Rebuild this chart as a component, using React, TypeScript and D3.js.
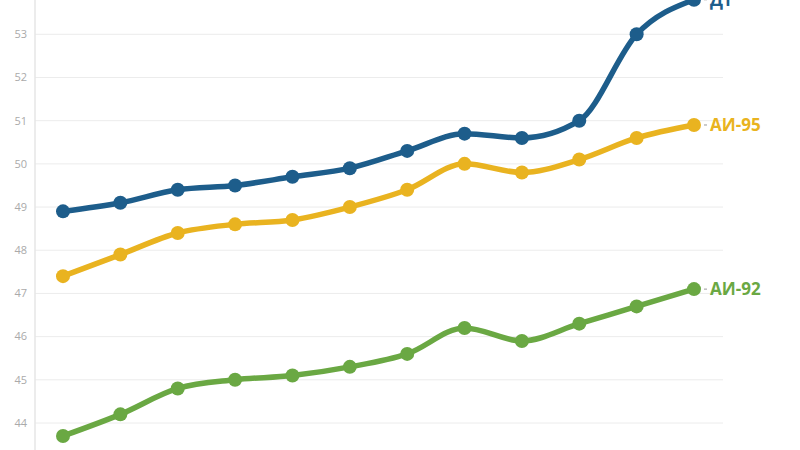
import React from "react";
import * as d3 from "d3";

const periods = [1, 2, 3, 4, 5, 6, 7, 8, 9, 10, 11, 12];
const dtValues = [48.9, 49.1, 49.4, 49.5, 49.7, 49.9, 50.3, 50.7, 50.6, 51.0, 53.0, 53.8];
const ai95Values = [47.4, 47.9, 48.4, 48.6, 48.7, 49.0, 49.4, 50.0, 49.8, 50.1, 50.6, 50.9];
const ai92Values = [43.7, 44.2, 44.8, 45.0, 45.1, 45.3, 45.6, 46.2, 45.9, 46.3, 46.7, 47.1];
const seriesNames = ["ДТ", "АИ-95", "АИ-92"];
const yTicks = [44, 45, 46, 47, 48, 49, 50, 51, 52, 53];

const colors = ["#1d5d8b", "#e9b320", "#6aa843"];

export default function App() {
  const width = 800;
  const height = 450;
  const x = d3.scaleLinear().domain([1, 12]).range([63, 694]);
  const y = d3.scaleLinear().domain([44, 53]).range([423, 34.3]);
  const line = d3
    .line<number>()
    .x((_, i) => x(periods[i]))
    .y((d) => y(d))
    .curve(d3.curveMonotoneX);
  const series = [dtValues, ai95Values, ai92Values];

  return (
    <svg
      width={width}
      height={height}
      style={{ position: "absolute", left: 0, top: 0, background: "#fff" }}
    >
      {yTicks.map((t) => (
        <g key={t}>
          <line x1={35} x2={723} y1={y(t)} y2={y(t)} stroke="#ececec" strokeWidth={1} />
          <text
            x={27}
            y={y(t)}
            dy="0.35em"
            textAnchor="end"
            fontFamily="Open Sans, sans-serif"
            fontSize={11}
            fill="#aaaaaa"
          >
            {t}
          </text>
        </g>
      ))}
      <line x1={35} x2={35} y1={0} y2={450} stroke="#e6e6e6" strokeWidth={1.5} />
      {series.map((vals, si) => (
        <g key={si}>
          <path d={line(vals) || ""} fill="none" stroke={colors[si]} strokeWidth={5.5} strokeLinejoin="round" strokeLinecap="round" />
          {vals.map((v, i) => (
            <circle key={i} cx={x(periods[i])} cy={y(v)} r={7} fill={colors[si]} />
          ))}
          <line
            x1={x(12) + 10}
            x2={x(12) + 13}
            y1={y(vals[vals.length - 1])}
            y2={y(vals[vals.length - 1])}
            stroke="#999"
            strokeWidth={1}
          />
          <text
            x={x(12) + 16}
            y={y(vals[vals.length - 1])}
            dy="0.36em"
            fontFamily="Open Sans, sans-serif"
            fontWeight="bold"
            fontSize={17}
            fill={colors[si]}
          >
            {seriesNames[si]}
          </text>
        </g>
      ))}
    </svg>
  );
}
